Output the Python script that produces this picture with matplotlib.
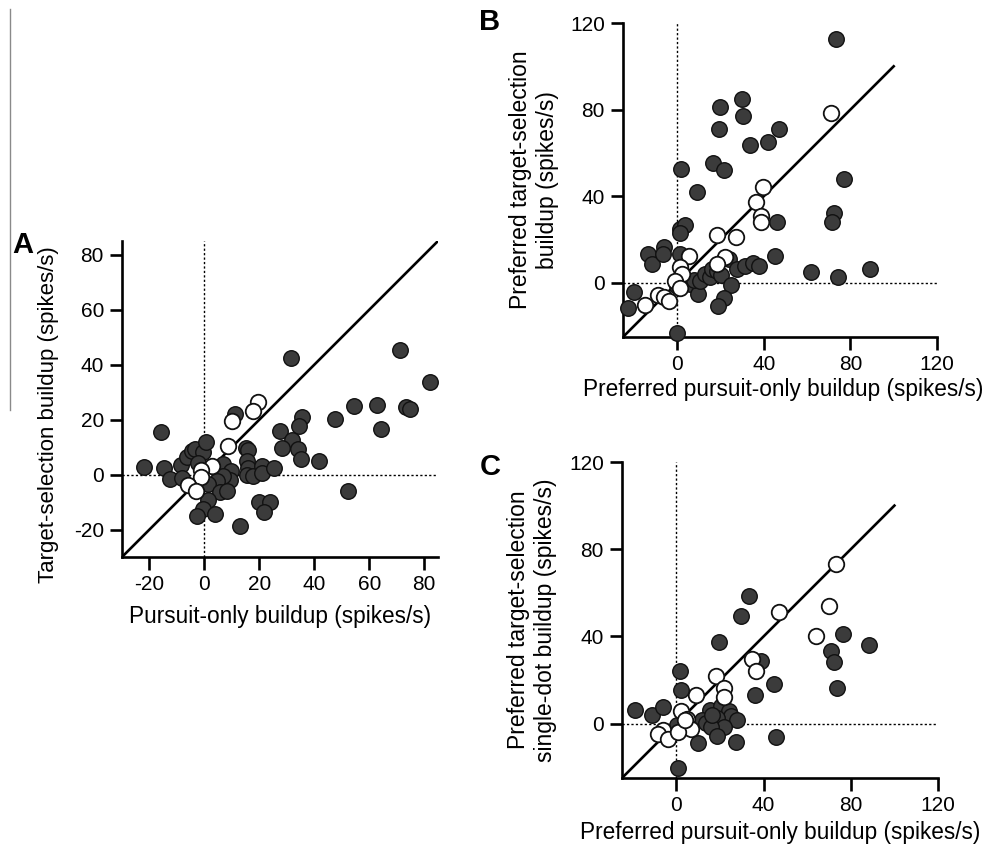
import numpy as np
import matplotlib
matplotlib.use('Agg')
import matplotlib.pyplot as plt
from matplotlib.lines import Line2D

plt.rcParams['font.family'] = ['Liberation Sans', 'DejaVu Sans']
plt.rcParams['axes.unicode_minus'] = False

# ─── Data ─────────────────────────────────────────────────────────────────────
# Panel A: pursuit-only vs target-selection buildup
a_fill_x = [31.4, 71.3, 82.2, 54.3, 62.7, 73.5, 74.8, 64.4, 47.4, 35.5,
            34.3, 27.4, 31.9, 28.2, 34.1, 35.3, 41.7, 52.4, -15.9, -21.9,
            -14.7, -12.5, -8.5, -8.2, -6.2, -4.7, -3.5, -0.7, 0.5, -2.5,
            11.3, 15.2, 16.0, 15.4, 15.9, 15.4, 17.5, 20.8, 21.1, 25.3,
            19.8, 23.7, 21.6, 13.0, 6.8, 9.6, 9.3, 6.6, 4.4, 1.4,
            5.6, 8.1, 1.4, -0.5, -2.8, 3.9]
a_fill_y = [42.5, 45.5, 33.6, 24.8, 25.2, 24.5, 24.0, 16.5, 20.2, 20.8,
            17.5, 15.8, 12.6, 9.5, 9.2, 5.5, 4.8, -6.0, 15.4, 2.8,
            2.4, -1.7, 3.4, -1.1, 6.3, 8.5, 9.3, 8.2, 11.9, 4.1,
            22.2, 9.6, 9.0, 4.8, 2.3, -0.3, -0.7, 3.1, 0.7, 2.3,
            -10.1, -10.0, -13.7, -18.6, 3.7, 1.3, -1.8, -0.4, -2.4, -3.5,
            -6.5, -5.9, -9.1, -12.5, -15.2, -14.2]
a_open_x = [19.6, 17.7, 10.1, 8.6, 2.9, -1.1, -1.2, -6.0, -3.2]
a_open_y = [26.4, 23.0, 19.6, 10.4, 3.0, 1.5, -1.0, -3.7, -5.9]

# Panel B: preferred pursuit-only vs preferred target-selection
b_fill_x = [73.4, 19.7, 29.8, 30.6, 19.2, 47.2, 33.5, 41.8, 16.4, 21.8,
            1.8, 9.1, 77.0, 72.5, 71.6, 46.1, 1.1, 3.4, 1.5, -13.5,
            -11.5, -6.2, -6.6, 1.5, 45.0, 61.8, 89.1, 74.2, -19.7, -22.8,
            0.0, 0.0, 5.8, 9.7, 7.7, 10.7, 13.0, 15.3, 16.1, 18.4,
            20.3, 23.8, 25.0, 21.8, 18.7, 27.6, 31.5, 35.0, 37.6]
b_fill_y = [112.8, 81.1, 84.9, 76.9, 71.1, 71.1, 63.8, 65.1, 55.2, 52.1,
            52.6, 42.1, 48.1, 32.2, 28.0, 28.0, 25.1, 26.5, 23.2, 13.2,
            8.6, 16.6, 13.5, 13.5, 12.4, 5.1, 6.3, 2.8, -4.1, -11.8,
            -23.3, -1.4, -0.6, -5.2, 1.2, 0.9, 4.0, 2.5, 6.3, 5.5,
            3.5, 10.9, -1.1, -7.2, -10.6, 6.3, 7.8, 9.4, 7.8]
b_open_x = [71.0, 39.8, 36.6, 38.6, 38.9, 18.4, 27.4, 5.7, 21.9, 1.5,
            2.3, -0.8, 1.1, -8.9, -6.2, -3.9, -14.9, 18.4]
b_open_y = [78.6, 44.3, 37.5, 31.1, 28.2, 22.3, 21.0, 12.4, 12.1, 7.1,
            4.0, 0.9, -2.6, -5.7, -6.7, -8.3, -10.3, 8.6]

# Panel C: preferred pursuit-only vs preferred single-dot target-selection
c_fill_x = [33.2, 29.5, 19.3, 76.6, 88.3, 70.8, 72.3, 73.5, 38.7, 44.7,
            36.2, 45.7, 1.8, 2.0, -19.2, -11.3, -6.4, 0.7, 9.8, 27.4,
            0.3, 15.4, 20.2, 24.0, 25.1, 27.9, 11.9, 13.7, 18.4, 21.7,
            15.7, 18.7, 16.4]
c_fill_y = [58.6, 49.4, 37.5, 41.3, 36.1, 33.3, 28.3, 16.2, 28.7, 18.2,
            13.3, -6.1, 24.0, 15.6, 6.4, 3.8, 7.6, -20.6, -8.8, -8.6,
            -0.8, 6.4, 7.9, 5.6, 3.3, 1.8, 1.5, 0.3, 2.7, -1.5,
            -1.5, -5.8, 3.8]
c_open_x = [73.1, 47.1, 70.2, 64.1, 34.6, 36.7, 18.3, 22.0, 21.9, 9.0,
            2.0, 5.0, 6.5, -6.4, -8.7, -4.1, 0.5, 3.8]
c_open_y = [73.4, 51.2, 53.7, 40.2, 29.8, 24.2, 22.0, 16.5, 12.2, 13.0,
            5.8, 2.3, -2.3, -3.1, -4.6, -6.9, -3.8, 1.5]

a_ticks = [-20, 0, 20, 40, 60, 80]
bc_ticks = [0, 40, 80, 120]

# ─── Figure ───────────────────────────────────────────────────────────────────
W, H = 993, 847
XLAB_FS = 16.3
YLAB_FS = 16.5
fig = plt.figure(figsize=(W / 100, H / 100), dpi=100)


def px_axes(left, right, top, bottom):
    return fig.add_axes([left / W, 1 - bottom / H, (right - left) / W, (bottom - top) / H])


def style(ax, lo, hi, ticks, unity_end):
    ax.set_xlim(lo, hi)
    ax.set_ylim(lo, hi)
    for s in ('top', 'right'):
        ax.spines[s].set_visible(False)
    for s in ('left', 'bottom'):
        ax.spines[s].set_linewidth(1.9)
    ax.set_xticks(ticks)
    ax.set_yticks(ticks)
    ax.tick_params(length=9, width=1.9, labelsize=15, pad=4)
    ax.axvline(0, color='k', lw=1.0, ls=(0, (1.6, 1.6)), zorder=1)
    ax.axhline(0, color='k', lw=1.0, ls=(0, (1.6, 1.6)), zorder=1)
    ax.plot([lo, unity_end], [lo, unity_end], color='k', lw=1.9, zorder=2)


def points(ax, fx, fy, ox, oy):
    ax.scatter(fx, fy, s=125, facecolor='#3b3b3b', edgecolor='#111111',
               linewidth=1.0, zorder=3, clip_on=False)
    ax.scatter(ox, oy, s=125, facecolor='white', edgecolor='#111111',
               linewidth=1.3, zorder=4, clip_on=False)


# Panel A
axA = px_axes(122, 438, 241, 557)
style(axA, -30, 85, a_ticks, 85)
points(axA, a_fill_x, a_fill_y, a_open_x, a_open_y)
axA.set_xlabel('Pursuit-only buildup (spikes/s)', fontsize=XLAB_FS)
axA.set_ylabel('Target-selection buildup (spikes/s)', fontsize=16.0)
axA.xaxis.set_label_coords(0.5, -0.152)
axA.yaxis.set_label_coords(-0.2, 0.45)

# Panel B
axB = px_axes(623, 937, 23, 337)
style(axB, -25, 120, bc_ticks, 100)
points(axB, b_fill_x, b_fill_y, b_open_x, b_open_y)
axB.set_xlabel('Preferred pursuit-only buildup (spikes/s)', fontsize=XLAB_FS)
axB.set_ylabel('Preferred target-selection\nbuildup (spikes/s)', fontsize=YLAB_FS,
               linespacing=1.22)
axB.xaxis.set_label_coords(0.51, -0.13)
axB.yaxis.set_label_coords(-0.205, 0.5)

# Panel C
axC = px_axes(622, 938, 462, 778)
style(axC, -25, 120, bc_ticks, 100)
points(axC, c_fill_x, c_fill_y, c_open_x, c_open_y)
axC.set_xlabel('Preferred pursuit-only buildup (spikes/s)', fontsize=XLAB_FS)
axC.set_ylabel('Preferred target-selection\nsingle-dot buildup (spikes/s)', fontsize=YLAB_FS,
               linespacing=1.22)
axC.xaxis.set_label_coords(0.5, -0.136)
axC.yaxis.set_label_coords(-0.205, 0.5)

# Panel letters
fig.text(23 / W, 1 - 245 / H, 'A', fontsize=21, fontweight='bold', ha='center', va='center')
fig.text(490 / W, 1 - 22 / H, 'B', fontsize=21, fontweight='bold', ha='center', va='center')
fig.text(490 / W, 1 - 467 / H, 'C', fontsize=21, fontweight='bold', ha='center', va='center')

# stray grey rule on the left edge
fig.add_artist(Line2D([10 / W, 10 / W], [1 - 9 / H, 1 - 410 / H], color='#8a8a8a', lw=1.0))

fig.savefig('out.png', dpi=100)
